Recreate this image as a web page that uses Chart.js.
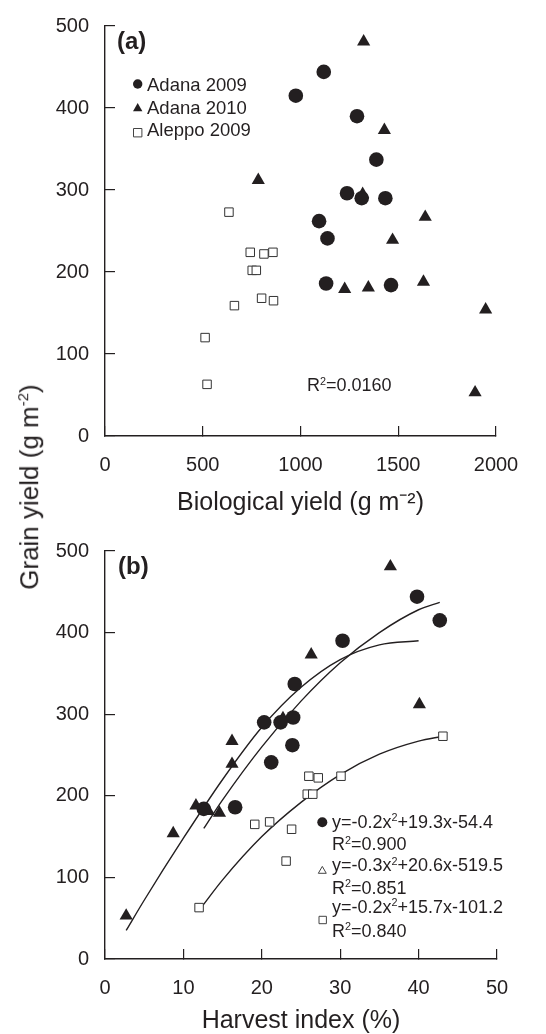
<!DOCTYPE html>
<html>
<head>
<meta charset="utf-8">
<script src="https://cdn.jsdelivr.net/npm/chart.js@4.4.0/dist/chart.umd.min.js"></script>
<style>
    body { margin: 0; background: #fff; }
    #wrap { position: relative; width: 546px; height: 1034px; }
    #chartA { position: absolute; left: 0; top: 0; }
    #chartB { position: absolute; left: 0; top: 520px; }
    #yTitle {
        position: absolute; left: 26px; top: 487px;
        transform: translate(-50%, -50%) rotate(-90deg);
        font: 26px 'Liberation Sans', Arial, sans-serif; line-height: 26px;
        color: #231f20; white-space: nowrap;
    }
    #yTitle sup { font-size: 15px; }
</style>
</head>
<body>
<div id="wrap">
    <canvas id="chartA" width="546" height="520" style="width:546px;height:520px"></canvas>
    <canvas id="chartB" width="546" height="514" style="width:546px;height:514px"></canvas>
    <div id="yTitle">Grain yield (g m<sup>-2</sup>)</div>
</div>
<script>
// series names
const seriesNames = ['Adana 2009', 'Adana 2010', 'Aleppo 2009'];

// grain yield (g m-2), same order in both panels
const adana09Grain = [444, 415, 390, 337, 296, 290, 290, 262, 241, 186, 184];
const adana10Grain = [481, 373, 312, 295, 267, 239, 179, 181, 188, 154, 53];
const aleppoGrain = [273, 224, 222, 224, 202, 202, 168, 165, 159, 120, 63];

// (a) biological yield (g m-2)
const adana09Bio = [1119, 976, 1289, 1388, 1238, 1313, 1434, 1095, 1138, 1131, 1463];
const adana10Bio = [1323, 1429, 784, 1318, 1638, 1471, 1226, 1347, 1629, 1947, 1893];
const aleppoBio = [634, 743, 813, 859, 753, 774, 801, 862, 662, 512, 522];

// (b) harvest index (%)
const adana09HI = [39.8, 42.7, 30.3, 24.2, 24.0, 20.3, 22.4, 23.9, 21.2, 16.6, 12.6];
const adana10HI = [36.4, 26.3, 40.1, 22.7, 16.2, 16.2, 14.6, 13.2, 11.6, 8.7, 2.7];
const aleppoHI = [43.1, 26.0, 27.2, 30.1, 25.8, 26.5, 21.0, 19.1, 23.8, 23.1, 12.0];

// (b) fitted curves
const adana09FitHI = [12.6, 15, 20, 25, 30, 35, 40, 42.7];
const adana09FitGrain = [160, 195, 260, 316, 363, 400, 428, 437];
const adana10FitHI = [2.7, 5, 10, 15, 20, 25, 30, 35, 40];
const adana10FitGrain = [35, 72, 148, 220, 284, 333, 367, 385, 390];
const aleppoFitHI = [12.5, 15, 20, 25, 30, 35, 40, 43.1];
const aleppoFitGrain = [66, 97, 150, 192, 226, 251, 267, 273];

// fit equations
const fitEquations = [['y=-0.2x', '+19.3x-54.4'], ['y=-0.3x', '+20.6x-519.5'], ['y=-0.2x', '+15.7x-101.2']];
const fitR2 = ['0.900', '0.851', '0.840'];
const overallR2 = '0.0160';

const inkColor = '#231f20';
const fontFamily = "'Liberation Sans', Arial, sans-serif";

function toPoints(xs, ys) {
    return xs.map((x, i) => ({ x: x, y: ys[i] }));
}

// text with superscripts; cy = middle of capitals
function drawRichText(ctx, x, cy, parts, size) {
    let cx = x;
    const base = cy + size * 0.36;
    ctx.textBaseline = 'alphabetic';
    ctx.textAlign = 'left';
    parts.forEach(([text, sup]) => {
        const s = sup ? size * 0.6 : size;
        ctx.font = `${s}px ${fontFamily}`;
        ctx.fillText(text, cx, sup ? base - size * 0.38 : base);
        cx += ctx.measureText(text).width;
    });
}

function drawMarker(ctx, type, x, y, r, filled) {
    ctx.beginPath();
    if (type === 'circle') {
        ctx.arc(x, y, r, 0, Math.PI * 2);
    } else if (type === 'triangle') {
        ctx.moveTo(x, y - r);
        ctx.lineTo(x + r * 0.866, y + r * 0.5);
        ctx.lineTo(x - r * 0.866, y + r * 0.5);
        ctx.closePath();
    } else {
        ctx.rect(x - r, y - r, r * 2, r * 2);
    }
    if (filled) {
        ctx.fillStyle = inkColor;
        ctx.fill();
    } else {
        ctx.fillStyle = '#fff';
        ctx.fill();
        ctx.lineWidth = 1;
        ctx.strokeStyle = '#444';
        ctx.stroke();
    }
}

// panel (a) label, legend and R2
const annotateA = {
    id: 'annotateA',
    afterDraw(chart) {
        const ctx = chart.ctx;
        ctx.save();
        ctx.fillStyle = inkColor;
        ctx.font = `bold 24px ${fontFamily}`;
        ctx.textBaseline = 'middle';
        ctx.fillText('(a)', 117, 42);

        drawMarker(ctx, 'circle', 137.7, 84, 4.7, true);
        drawMarker(ctx, 'triangle', 137.7, 108.5, 5.4, true);
        drawMarker(ctx, 'rect', 137.7, 132.7, 4.2, false);
        ctx.fillStyle = inkColor;
        const legendY = [84, 107, 129];
        seriesNames.forEach((name, i) => drawRichText(ctx, 147, legendY[i], [[name]], 18.5));

        drawRichText(ctx, 307, 385, [['R'], ['2', true], ['=' + overallR2]], 18);
        ctx.restore();
    }
};

// panel (b) label and fit equations
const annotateB = {
    id: 'annotateB',
    afterDraw(chart) {
        const ctx = chart.ctx;
        ctx.save();
        ctx.fillStyle = inkColor;
        ctx.font = `bold 24px ${fontFamily}`;
        ctx.textBaseline = 'middle';
        ctx.fillText('(b)', 118, 47);

        drawMarker(ctx, 'circle', 322.3, 302.3, 5, true);
        drawMarker(ctx, 'triangle', 322.3, 351, 4.6, false);
        drawMarker(ctx, 'rect', 322.7, 400, 3.7, false);
        ctx.fillStyle = inkColor;
        const eqY = [301.7, 345, 386.7];
        const r2Y = [324, 367.3, 410.7];
        fitEquations.forEach((eq, i) => {
            drawRichText(ctx, 332, eqY[i], [[eq[0]], ['2', true], [eq[1]]], 18);
            drawRichText(ctx, 332, r2Y[i], [['R'], ['2', true], ['=' + fitR2[i]]], 18);
        });
        ctx.restore();
    }
};

function buildScales(xMax, xStep, xTitle, xAxisHeight, titlePad) {
    const grid = { drawOnChartArea: false, tickLength: -10, color: inkColor, lineWidth: 1.2 };
    const border = { color: inkColor, width: 1.4 };
    const tickFont = { family: fontFamily, size: 20 };
    return {
        x: {
            type: 'linear',
            min: 0,
            max: xMax,
            ticks: { stepSize: xStep, color: inkColor, font: tickFont, padding: 27, maxRotation: 0, callback: (v) => String(v) },
            grid: grid,
            border: border,
            title: {
                display: true,
                text: xTitle,
                color: inkColor,
                font: { family: fontFamily, size: 25, lineHeight: 1 },
                padding: { top: 0, bottom: titlePad }
            },
            afterFit: (scale) => {
                scale.height = xAxisHeight;
                scale.paddingLeft = 0;
                scale.paddingRight = 0;
            }
        },
        y: {
            type: 'linear',
            min: 0,
            max: 500,
            ticks: { stepSize: 100, color: inkColor, font: tickFont, padding: 26, callback: (v) => String(v) },
            grid: grid,
            border: border,
            afterFit: (scale) => {
                scale.width = 105;
                scale.paddingTop = 0;
                scale.paddingBottom = 0;
            }
        }
    };
}

const baseOptions = {
    responsive: false,
    animation: false,
    plugins: { legend: { display: false }, tooltip: { enabled: false } }
};

function pointSet(label, data, style) {
    const open = style === 'rect';
    return {
        label: label,
        data: data,
        pointStyle: style,
        pointRadius: style === 'circle' ? 7.3 : (open ? 6 : 7.6),
        backgroundColor: open ? '#fff' : inkColor,
        borderColor: open ? '#333' : inkColor,
        borderWidth: open ? 1 : 0,
        showLine: false
    };
}

function curveSet(data) {
    return {
        type: 'line',
        data: data,
        borderColor: inkColor,
        borderWidth: 1.4,
        pointRadius: 0,
        fill: false,
        cubicInterpolationMode: 'monotone'
    };
}

// (a) grain yield vs biological yield
new Chart(document.getElementById('chartA').getContext('2d'), {
    type: 'scatter',
    data: {
        datasets: [
            pointSet(seriesNames[0], toPoints(adana09Bio, adana09Grain), 'circle'),
            pointSet(seriesNames[1], toPoints(adana10Bio, adana10Grain), 'triangle'),
            pointSet(seriesNames[2], toPoints(aleppoBio, aleppoGrain), 'rect')
        ]
    },
    options: {
        ...baseOptions,
        layout: { autoPadding: false, padding: { left: 0, right: 50, top: 26, bottom: 0 } },
        scales: buildScales(2000, 500, 'Biological yield (g m\u207B\u00B2)', 84, 4)
    },
    plugins: [annotateA]
});

// (b) grain yield vs harvest index
new Chart(document.getElementById('chartB').getContext('2d'), {
    type: 'scatter',
    data: {
        datasets: [
            pointSet(seriesNames[0], toPoints(adana09HI, adana09Grain), 'circle'),
            pointSet(seriesNames[1], toPoints(adana10HI, adana10Grain), 'triangle'),
            pointSet(seriesNames[2], toPoints(aleppoHI, aleppoGrain), 'rect'),
            curveSet(toPoints(adana09FitHI, adana09FitGrain)),
            curveSet(toPoints(adana10FitHI, adana10FitGrain)),
            curveSet(toPoints(aleppoFitHI, aleppoFitGrain))
        ]
    },
    options: {
        ...baseOptions,
        layout: { autoPadding: false, padding: { left: 0, right: 49, top: 31, bottom: 0 } },
        scales: buildScales(50, 10, 'Harvest index (%)', 75, 0)
    },
    plugins: [annotateB]
});
</script>
</body>
</html>
